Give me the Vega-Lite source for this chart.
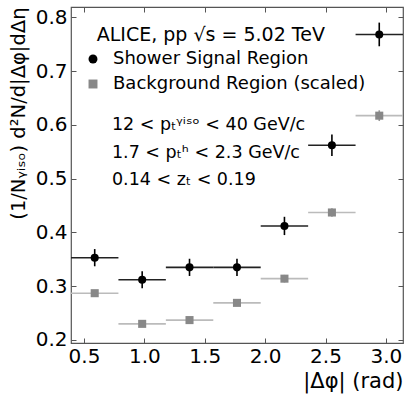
{
  "$schema": "https://vega.github.io/schema/vega-lite/v6.json",
  "width": 332,
  "height": 336,
  "autosize": {"type": "none"},
  "padding": {"left": 71, "top": 7, "right": 13, "bottom": 54},
  "config": {
    "font": "DejaVu Sans",
    "view": {"stroke": "#555", "strokeWidth": 1.2},
    "axis": {"grid": false, "domain": false, "tickColor": "#555", "tickWidth": 1, "labelColor": "#000", "titleColor": "#000", "labelFont": "DejaVu Sans", "titleFont": "DejaVu Sans", "titleFontWeight": "normal"}
  },
  "data": {"values": [
    {"series": "Shower Signal Region", "x": 0.589, "xlo": 0.3927, "xhi": 0.7854, "y": 0.353, "ylo": 0.337, "yhi": 0.369},
    {"series": "Shower Signal Region", "x": 0.982, "xlo": 0.7854, "xhi": 1.1781, "y": 0.312, "ylo": 0.296, "yhi": 0.328},
    {"series": "Shower Signal Region", "x": 1.374, "xlo": 1.1781, "xhi": 1.5708, "y": 0.335, "ylo": 0.319, "yhi": 0.351},
    {"series": "Shower Signal Region", "x": 1.767, "xlo": 1.5708, "xhi": 1.9635, "y": 0.335, "ylo": 0.319, "yhi": 0.351},
    {"series": "Shower Signal Region", "x": 2.160, "xlo": 1.9635, "xhi": 2.3562, "y": 0.412, "ylo": 0.395, "yhi": 0.429},
    {"series": "Shower Signal Region", "x": 2.553, "xlo": 2.3562, "xhi": 2.7489, "y": 0.562, "ylo": 0.542, "yhi": 0.582},
    {"series": "Shower Signal Region", "x": 2.945, "xlo": 2.7489, "xhi": 3.1416, "y": 0.768, "ylo": 0.746, "yhi": 0.790},
    {"series": "Background Region (scaled)", "x": 0.589, "xlo": 0.3927, "xhi": 0.7854, "y": 0.287, "ylo": 0.281, "yhi": 0.293},
    {"series": "Background Region (scaled)", "x": 0.982, "xlo": 0.7854, "xhi": 1.1781, "y": 0.230, "ylo": 0.224, "yhi": 0.236},
    {"series": "Background Region (scaled)", "x": 1.374, "xlo": 1.1781, "xhi": 1.5708, "y": 0.237, "ylo": 0.231, "yhi": 0.243},
    {"series": "Background Region (scaled)", "x": 1.767, "xlo": 1.5708, "xhi": 1.9635, "y": 0.269, "ylo": 0.263, "yhi": 0.275},
    {"series": "Background Region (scaled)", "x": 2.160, "xlo": 1.9635, "xhi": 2.3562, "y": 0.314, "ylo": 0.307, "yhi": 0.321},
    {"series": "Background Region (scaled)", "x": 2.553, "xlo": 2.3562, "xhi": 2.7489, "y": 0.437, "ylo": 0.429, "yhi": 0.445},
    {"series": "Background Region (scaled)", "x": 2.945, "xlo": 2.7489, "xhi": 3.1416, "y": 0.617, "ylo": 0.607, "yhi": 0.627}
  ]},
  "layer": [
    {
      "mark": {"type": "rule", "strokeWidth": 1.6},
      "encoding": {
        "x": {"field": "xlo", "type": "quantitative", "scale": {"domain": [0.3927, 3.1416], "nice": false, "zero": false},
              "axis": {"orient": "bottom", "title": "|Δφ| (rad)", "titleAnchor": "end", "titleFontSize": 21, "titlePadding": 4, "labelFontSize": 20, "values": [0.5, 1.0, 1.5, 2.0, 2.5, 3.0], "format": ".1f", "tickSize": -5, "labelPadding": 8, "labelFlush": false}},
        "x2": {"field": "xhi"},
        "y": {"field": "y", "type": "quantitative", "scale": {"domain": [0.1944, 0.819], "nice": false, "zero": false},
              "axis": {"orient": "left", "title": "(1/Nᵧᵢₛₒ) d²N/d|Δφ|dΔη", "titleAnchor": "end", "titleFontSize": 19.5, "titlePadding": 7, "labelFontSize": 20, "values": [0.2, 0.3, 0.4, 0.5, 0.6, 0.7, 0.8], "format": ".1f", "tickSize": -5, "labelPadding": 9, "labelFlush": false}},
        "color": {"condition": {"test": "datum.series == 'Shower Signal Region'", "value": "#222"}, "value": "#bbb"}
      }
    },
    {
      "mark": {"type": "rule", "strokeWidth": 1.6},
      "encoding": {
        "x": {"field": "x", "type": "quantitative", "axis": {"orient": "top", "title": null, "labels": false, "values": [0.5, 1.0, 1.5, 2.0, 2.5, 3.0], "tickSize": -5}},
        "y": {"field": "ylo", "type": "quantitative", "axis": {"orient": "right", "title": null, "labels": false, "values": [0.2, 0.3, 0.4, 0.5, 0.6, 0.7, 0.8], "tickSize": -5}},
        "y2": {"field": "yhi"},
        "color": {"condition": {"test": "datum.series == 'Shower Signal Region'", "value": "#000"}, "value": "#999"}
      }
    },
    {
      "mark": {"type": "point", "filled": true, "size": 65, "opacity": 1},
      "encoding": {
        "x": {"field": "x", "type": "quantitative", "axis": null},
        "y": {"field": "y", "type": "quantitative", "axis": null},
        "color": {"field": "series", "type": "nominal", "scale": {"domain": ["Shower Signal Region", "Background Region (scaled)"], "range": ["#000000", "#888888"]},
                  "legend": {"title": null, "orient": "none", "legendX": 13, "legendY": 43, "labelFontSize": 18, "labelLimit": 0, "labelColor": "#000", "symbolSize": 80, "rowPadding": 7, "labelOffset": 11, "symbolStrokeWidth": 0}},
        "shape": {"field": "series", "type": "nominal", "scale": {"domain": ["Shower Signal Region", "Background Region (scaled)"], "range": ["circle", "square"]}}
      }
    },
    {
      "data": {"values": [{"label": "ALICE, pp √s = 5.02 TeV"}]},
      "mark": {"type": "text", "align": "left", "baseline": "middle", "fontSize": 19, "color": "#000"},
      "encoding": {"text": {"field": "label"}, "x": {"datum": 0.606, "axis": null}, "y": {"datum": 0.767, "axis": null}}
    },
    {
      "data": {"values": [{"label": "12 < pₜᵞⁱˢᵒ < 40 GeV/c"}]},
      "mark": {"type": "text", "align": "left", "baseline": "middle", "fontSize": 17.5, "color": "#000"},
      "encoding": {"text": {"field": "label"}, "x": {"datum": 0.732, "axis": null}, "y": {"datum": 0.600, "axis": null}}
    },
    {
      "data": {"values": [{"label": "1.7 < pₜʰ < 2.3 GeV/c"}]},
      "mark": {"type": "text", "align": "left", "baseline": "middle", "fontSize": 17.5, "color": "#000"},
      "encoding": {"text": {"field": "label"}, "x": {"datum": 0.732, "axis": null}, "y": {"datum": 0.548, "axis": null}}
    },
    {
      "data": {"values": [{"label": "0.14 < zₜ < 0.19"}]},
      "mark": {"type": "text", "align": "left", "baseline": "middle", "fontSize": 17.5, "color": "#000"},
      "encoding": {"text": {"field": "label"}, "x": {"datum": 0.732, "axis": null}, "y": {"datum": 0.498, "axis": null}}
    }
  ],
  "resolve": {"axis": {"x": "independent", "y": "independent"}}
}
